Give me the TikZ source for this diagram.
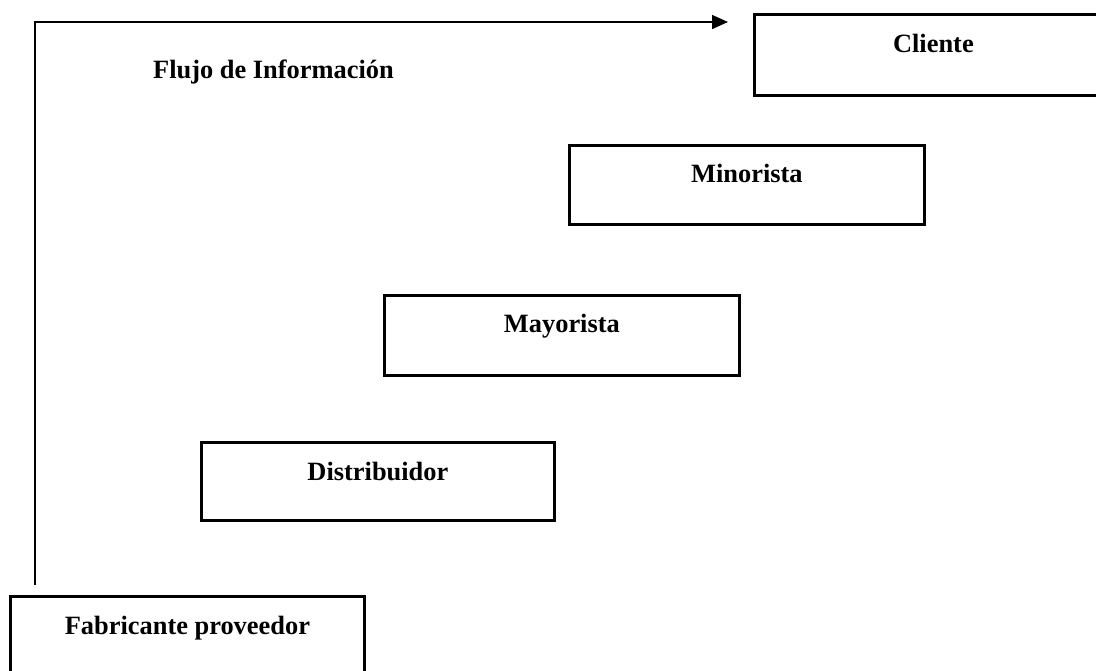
\documentclass[tikz,border=0pt]{standalone}
\usepackage{fontspec}
\setmainfont{Liberation Serif}
\usetikzlibrary{arrows.meta}
\tikzset{
  stage/.style={draw=black, line width=2.8pt, minimum width=#1, minimum height=80pt, inner sep=0pt},
  stagetext/.style={anchor=base, font=\fontsize{26.4}{30}\selectfont\bfseries, inner sep=0pt},
  flow/.style={line width=1.5pt, -{Triangle[length=16pt,width=14pt]}}
}
\begin{document}
\begin{tikzpicture}[x=1pt, y=-1pt]
  \useasboundingbox (0,0) rectangle (1096,670);
  % stages of the chain, from bottom left to top right
  \node[stage=354pt, minimum height=78pt, anchor=north west] (fab) at (9,595) {};
  \node[stagetext] at ([yshift=-39pt]fab.north) {Fabricante proveedor};
  \node[stage=353pt, minimum height=78pt, anchor=north west] (dis) at (200,441) {};
  \node[stagetext] at ([yshift=-39pt]dis.north) {Distribuidor};
  \node[stage=355pt, anchor=north west] (may) at (383,294) {};
  \node[stagetext] at ([yshift=-38pt]may.north) {Mayorista};
  \node[stage=355pt, minimum height=79pt, anchor=north west] (min) at (568,144) {};
  \node[stagetext] at ([yshift=-38pt]min.north) {Minorista};
  \node[stage=358pt, minimum height=81pt, anchor=north west] (cli) at (753,13) {};
  \node[stagetext] at ([yshift=-39pt]cli.north) {Cliente};
  % information flow
  \node[stagetext, anchor=base west] (flujo) at (153,78) {Flujo de Información};
  \coordinate (src) at (35,585);
  \coordinate (dst) at ([xshift=-25pt]cli.west |- 0,22);
  \draw[flow] (src) |- (dst);
\end{tikzpicture}
\end{document}
